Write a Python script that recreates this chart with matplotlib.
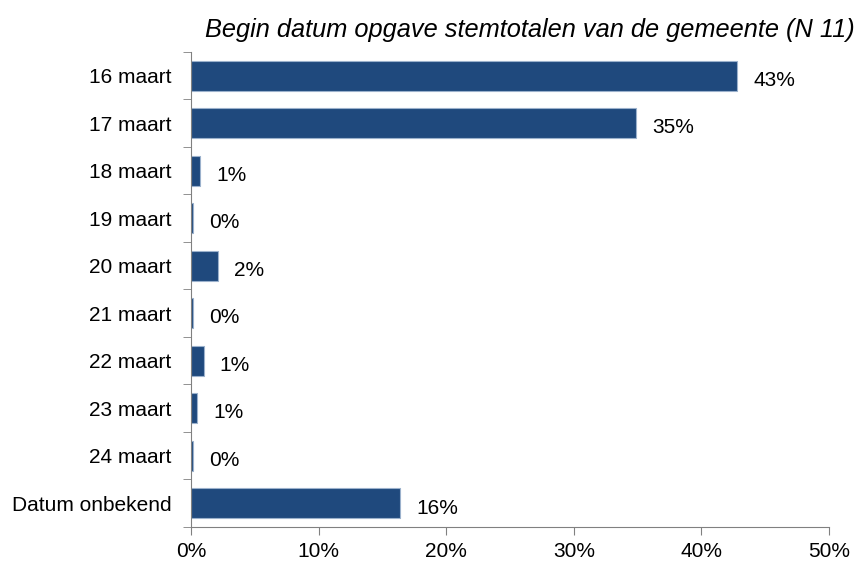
import numpy as np
import matplotlib.pyplot as plt
from matplotlib.ticker import FixedLocator

categories = ["16 maart", "17 maart", "18 maart", "19 maart", "20 maart",
              "21 maart", "22 maart", "23 maart", "24 maart", "Datum onbekend"]
values = [42.8, 34.9, 0.7, 0.15, 2.1, 0.15, 1.0, 0.5, 0.15, 16.4]
labels = ["43%", "35%", "1%", "0%", "2%", "0%", "1%", "1%", "0%", "16%"]
xticks = [0, 10, 20, 30, 40, 50]

plt.rcParams['font.family'] = ['Liberation Sans', 'DejaVu Sans']

fig = plt.figure(figsize=(8.61, 5.62), dpi=100)
ax = fig.add_axes([191/861, 1-527/562, (829-191)/861, (527-52)/562])

y = np.arange(len(categories))
ax.barh(y, values, height=0.63, color='#1F497D', edgecolor='#9BB1CC', linewidth=0.8)

for yi, v, lab in zip(y, values, labels):
    ax.text(v + 1.25, yi + 0.1, lab, va='center', ha='left', fontsize=15)

ax.set_ylim(len(categories) - 0.5, -0.5)
ax.set_xlim(0, 50)
ax.set_yticks(y)
ax.set_yticklabels(categories, fontsize=15)
ax.yaxis.set_minor_locator(FixedLocator(np.arange(-0.5, len(categories), 1)))
ax.tick_params(axis='y', which='major', length=0, pad=14)
ax.tick_params(axis='y', which='minor', length=6, color='#808080', direction='out')

ax.set_xticks(xticks)
ax.set_xticklabels([f"{t}%" for t in xticks], fontsize=15)
ax.tick_params(axis='x', length=6, color='#808080', direction='out', pad=5)

for s in ['top', 'right']:
    ax.spines[s].set_visible(False)
for s in ['left', 'bottom']:
    ax.spines[s].set_color('#808080')

fig.text(530/861, 1-30/562, "Begin datum opgave stemtotalen van de gemeente (N 11)",
         ha='center', va='center', fontsize=18.3, style='italic')

fig.savefig("out.png", dpi=100)
